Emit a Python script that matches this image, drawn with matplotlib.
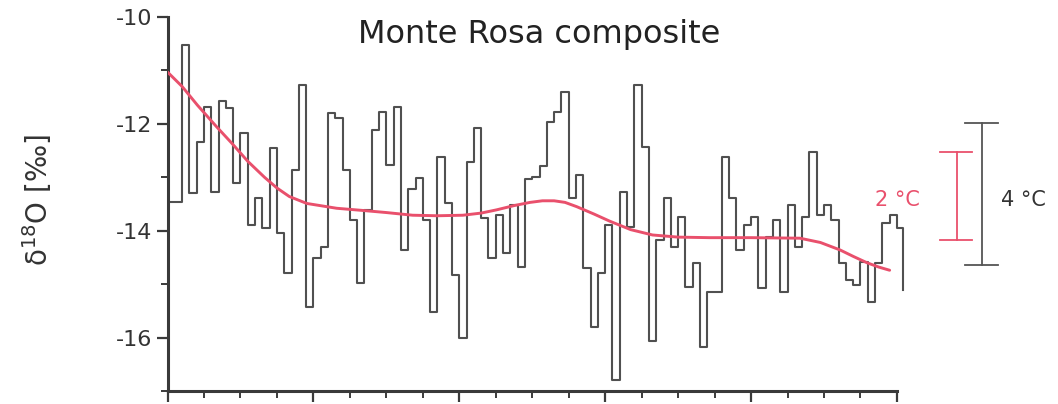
import matplotlib
matplotlib.use("Agg")
import matplotlib.pyplot as plt
from matplotlib.ticker import MultipleLocator, NullFormatter

# ---- data ----
# decadal step series: start year of each step, last entry marks the end of record
step_years = [1005, 1020, 1030, 1040, 1050, 1060, 1070, 1080, 1090,
              1100, 1110, 1120, 1130, 1140, 1150, 1160, 1170, 1180, 1190,
              1200, 1210, 1220, 1230, 1240, 1250, 1260, 1270, 1280, 1290,
              1300, 1310, 1320, 1330, 1340, 1350, 1360, 1370, 1380, 1390,
              1400, 1410, 1420, 1430, 1440, 1450, 1460, 1470, 1480, 1490,
              1500, 1510, 1520, 1530, 1540, 1550, 1560, 1570, 1580, 1590,
              1600, 1610, 1620, 1630, 1640, 1650, 1660, 1670, 1680, 1690,
              1700, 1710, 1720, 1730, 1740, 1750, 1760, 1770, 1780, 1790,
              1800, 1810, 1820, 1830, 1840, 1850, 1860, 1870, 1880, 1890,
              1900, 1910, 1920, 1930, 1940, 1950, 1960, 1970, 1980, 1990,
              2000, 2008]
d18o = [-13.46, -10.52, -13.30, -12.34, -11.69, -13.28, -11.57, -11.71, -13.11,
        -12.17, -13.90, -13.39, -13.95, -12.45, -14.04, -14.79, -12.87, -11.27, -15.43,
        -14.51, -14.31, -11.80, -11.89, -12.87, -13.80, -14.98, -13.61, -12.12, -11.78,
        -12.77, -11.69, -14.36, -13.22, -13.01, -13.80, -15.52, -12.62, -13.48, -14.83,
        -16.01, -12.72, -12.08, -13.76, -14.51, -13.71, -14.42, -13.52, -14.68, -13.03,
        -12.99, -12.79, -11.97, -11.78, -11.40, -13.39, -12.96, -14.70, -15.81, -14.79,
        -13.90, -16.80, -13.28, -13.93, -11.27, -12.43, -16.07, -14.18, -13.39, -14.31,
        -13.74, -15.05, -14.61, -16.18, -15.15, -15.15, -12.62, -13.39, -14.36, -13.90,
        -13.74, -15.07, -14.12, -13.80, -15.15, -13.52, -14.31, -13.74, -12.53, -13.71,
        -13.52, -13.80, -14.61, -14.93, -15.02, -14.59, -15.34, -14.61, -13.86, -13.71,
        -13.95, -15.11]

# smoothed curve
smooth_years = [1000, 1020, 1041, 1067, 1088, 1110, 1133, 1150, 1167, 1191,
                1232, 1267, 1300, 1336, 1370, 1405, 1430, 1451, 1475, 1497,
                1514, 1530, 1545, 1561, 1585, 1606, 1635, 1665, 1700, 1743,
                1800, 1867, 1895, 1922, 1940, 1959, 1975, 1990]
smooth_vals = [-11.03, -11.30, -11.65, -12.05, -12.36, -12.70, -13.00, -13.20, -13.36, -13.49,
               -13.58, -13.62, -13.66, -13.71, -13.72, -13.71, -13.67, -13.61, -13.53, -13.47,
               -13.44, -13.44, -13.47, -13.55, -13.69, -13.82, -13.98, -14.08, -14.12, -14.13,
               -14.13, -14.14, -14.22, -14.36, -14.48, -14.60, -14.68, -14.74]

yticks_major = [-10, -12, -14, -16]
title = "Monte Rosa composite"
ylabel = "δ$^{\\mathregular{18}}$O [‰]"

# ---- figure ----
plt.rcParams['font.family'] = ['DejaVu Sans']
plt.rcParams['mathtext.fontset'] = 'dejavusans'
fig = plt.figure(figsize=(10.58, 4.04), dpi=100)
ax = fig.add_axes([167.5 / 1058, 13 / 404, (905.7 - 167.5) / 1058, 374 / 404])

gray = '#505050'
red = '#e9506c'

ax.plot(step_years, d18o, drawstyle='steps-post', color=gray, lw=1.5, zorder=2)
ax.plot(smooth_years, smooth_vals, color=red, lw=2.1, zorder=3,
        solid_joinstyle='round', solid_capstyle='round')

ax.set_xlim(1000, 2012)
ax.set_ylim(-17, -10)
ax.spines['top'].set_visible(False)
ax.spines['right'].set_visible(False)
for s in ('left', 'bottom'):
    ax.spines[s].set_color('#3a3a3a')
    ax.spines[s].set_linewidth(2.2)
ax.spines['bottom'].set_bounds(1000, 2000)

ax.set_yticks(yticks_major)
ax.set_yticklabels([f"-{abs(v)}" for v in yticks_major])
ax.yaxis.set_minor_locator(MultipleLocator(1))
ax.set_xticks([t for t in range(1000, 2001, 200)])
ax.xaxis.set_minor_locator(MultipleLocator(50))
ax.xaxis.set_major_formatter(NullFormatter())
ax.tick_params(axis='both', which='major', direction='out', length=8, width=1.6,
               color='#3a3a3a', labelsize=16, labelcolor='#333333', pad=3)
ax.tick_params(axis='both', which='minor', direction='out', length=5, width=1.4,
               color='#3a3a3a')

fig.text(37 / 1058, 1 - 200 / 404, ylabel, rotation=90, ha='center', va='center',
         fontsize=20, color='#333333')
fig.text(539 / 1058, 1 - 35 / 404, title, ha='center', va='center',
         fontsize=23, color='#222222')

# scale bars
ax.plot([2116.6, 2116.6], [-11.99, -14.64], color='#555555', lw=1.3, clip_on=False)
ax.plot([2093, 2139], [-11.99, -11.99], color='#555555', lw=1.3, clip_on=False)
ax.plot([2093, 2139], [-14.64, -14.64], color='#555555', lw=1.3, clip_on=False)
ax.text(2142, -13.43, "4 °C", ha='left', va='center', fontsize=15, color='#333333',
        clip_on=False)

ax.plot([2082, 2082], [-12.53, -14.18], color=red, lw=1.3, clip_on=False)
ax.plot([2059, 2103], [-12.53, -12.53], color=red, lw=1.3, clip_on=False)
ax.plot([2059, 2103], [-14.18, -14.18], color=red, lw=1.3, clip_on=False)
ax.text(2001, -13.43, "2 °C", ha='center', va='center', fontsize=15, color=red,
        clip_on=False)

fig.savefig("out.png", dpi=100)
